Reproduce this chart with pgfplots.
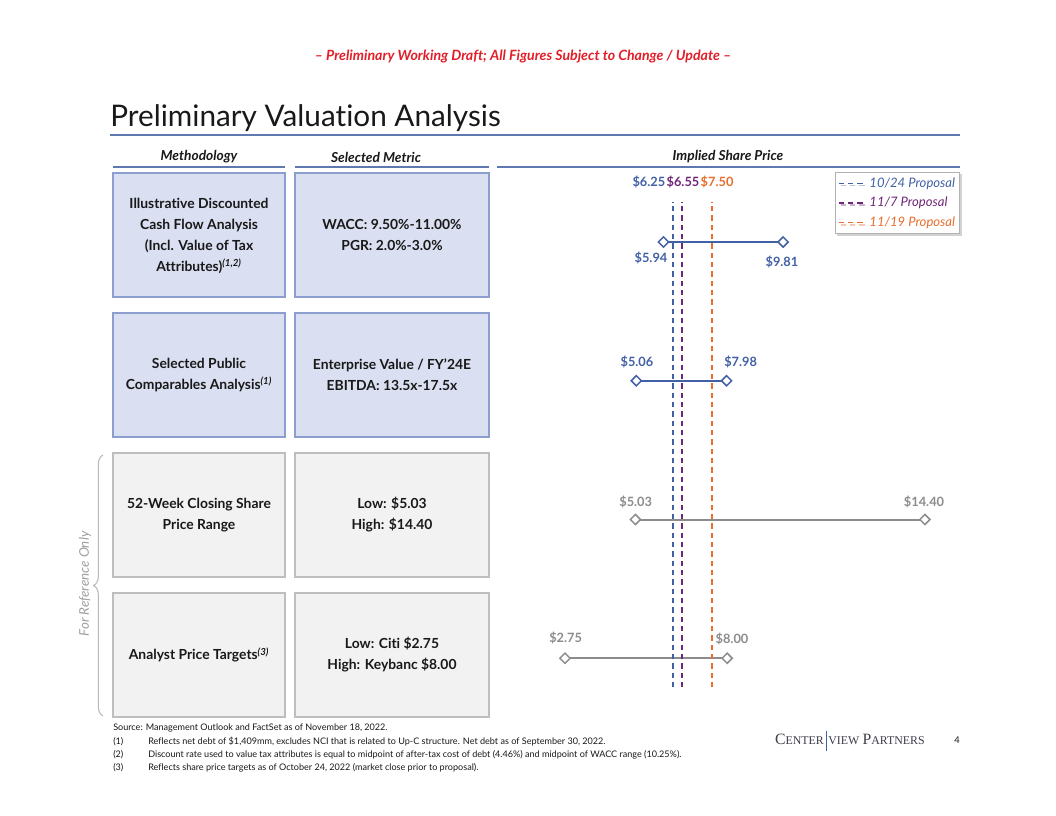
\documentclass[border=0pt]{standalone}
\usepackage{pgfplots}
\pgfplotsset{compat=1.18}
\usepackage{fontspec}
\setmainfont{Lato}[Ligatures={NoCommon}]
\newfontfamily\serifcap{Liberation Serif}
\usetikzlibrary{shadows,decorations.pathreplacing}
\definecolor{hdrred}{RGB}{226,30,40}
\definecolor{cvblue}{RGB}{66,96,165}
\definecolor{cvpurple}{RGB}{110,38,120}
\definecolor{cvorange}{RGB}{232,110,45}
\definecolor{cvgray}{RGB}{140,140,140}
\definecolor{rulblue}{RGB}{95,120,175}
\definecolor{boxblue}{RGB}{218,223,241}
\definecolor{boxblueb}{RGB}{140,158,205}
\definecolor{boxgray}{RGB}{242,242,242}
\definecolor{boxgrayb}{RGB}{190,190,190}
\definecolor{txt}{RGB}{25,25,25}
\definecolor{logo}{RGB}{60,60,75}
\newcommand\boxfont{\bfseries\fontsize{10.4}{15.75}\selectfont}
\tikzset{vlab/.style={font=\bfseries\fontsize{9.6}{11}\selectfont, inner sep=0}}
\begin{document}
\begin{tikzpicture}
\begin{scope}[x=0.75pt,y=-0.75pt,shift={(0pt,612pt)}]
\fill[white] (0,0) rectangle (1056,816);
% header
\node[font=\bfseries\itshape\fontsize{10.6}{12}\selectfont, text=hdrred] at (523,57) {-- Preliminary Working Draft; All Figures Subject to Change / Update --};
% title
\node[anchor=base west, inner sep=0, font=\fontsize{22.3}{26}\selectfont, text=txt] at (110,127) {Preliminary Valuation Analysis};
\draw[rulblue, line width=0.9pt] (110,135) -- (960,135);
% column headers
\node[font=\bfseries\itshape\fontsize{10.3}{12}\selectfont, text=txt] at (199,157) {Methodology};
\node[font=\bfseries\itshape\fontsize{10.3}{12}\selectfont, text=txt] at (376,157) {Selected Metric};
\node[font=\bfseries\itshape\fontsize{10.3}{12}\selectfont, text=txt] at (728,157) {Implied Share Price};
\draw[rulblue, line width=0.9pt] (113,167) -- (285,167);
\draw[rulblue, line width=0.9pt] (295,167) -- (489,167);
\draw[rulblue, line width=0.9pt] (497,167) -- (960,167);
% boxes
\foreach \yy in {173,313} {
  \draw[boxblueb, fill=boxblue, line width=0.9pt] (113,\yy) rectangle (285,{\yy+124});
  \draw[boxblueb, fill=boxblue, line width=0.9pt] (295,\yy) rectangle (489,{\yy+124});
}
\foreach \yy in {453,593} {
  \draw[boxgrayb, fill=boxgray, line width=0.9pt] (113,\yy) rectangle (285,{\yy+124});
  \draw[boxgrayb, fill=boxgray, line width=0.9pt] (295,\yy) rectangle (489,{\yy+124});
}
% box texts
\node[align=center, font=\boxfont, text=txt] at (199,236) {Illustrative Discounted\\Cash Flow Analysis\\(Incl. Value of Tax\\Attributes)\textsuperscript{\itshape(1,2)}};
\node[align=center, font=\boxfont, text=txt] at (392,235) {WACC: 9.50\%-11.00\%\\PGR: 2.0\%-3.0\%};
\node[align=center, font=\boxfont, text=txt] at (199,375) {Selected Public\\Comparables Analysis\textsuperscript{\itshape(1)}};
\node[align=center, font=\boxfont, text=txt] at (392,375) {Enterprise Value / FY'24E\\EBITDA: 13.5x-17.5x};
\node[align=center, font=\boxfont, text=txt] at (199,515) {52-Week Closing Share\\Price Range};
\node[align=center, font=\boxfont, text=txt] at (392,515) {Low: \$5.03\\High: \$14.40};
\node[align=center, font=\boxfont, text=txt] at (199,655) {Analyst Price Targets\textsuperscript{\itshape(3)}};
\node[align=center, font=\boxfont, text=txt] at (392,655) {Low: Citi \$2.75\\High: Keybanc \$8.00};
% brace and side text
\draw[gray!55, line width=0.8pt, decorate, decoration={brace, amplitude=7pt}] (103,716) -- (103,455);
\node[rotate=90, font=\itshape\fontsize{10}{12}\selectfont, text=gray!75] at (85,584) {For Reference Only};
% footnotes
\begin{scope}[every node/.style={anchor=west, inner sep=0, font=\fontsize{6.8}{8}\selectfont, text=txt}]
\node at (113,728) {Source: Management Outlook and FactSet as of November 18, 2022.};
\node at (113,742) {(1)}; \node at (148,742) {Reflects net debt of \$1,409mm, excludes NCI that is related to Up-C structure. Net debt as of September 30, 2022.};
\node at (113,755) {(2)}; \node at (148,755) {Discount rate used to value tax attributes is equal to midpoint of after-tax cost of debt (4.46\%) and midpoint of WACC range (10.25\%).};
\node at (113,768) {(3)}; \node at (148,768) {Reflects share price targets as of October 24, 2022 (market close prior to proposal).};
\end{scope}
% logo
\node[anchor=base east, inner sep=0, text=logo, font=\serifcap] at (824,745) {{\fontsize{11.8}{14}\selectfont C}{\fontsize{8.9}{11}\selectfont ENTER}};
\draw[cvblue, line width=0.7pt] (826,731) -- (826,751);
\node[anchor=base west, inner sep=0, text=logo, font=\serifcap] at (828,745) {{\fontsize{8.9}{11}\selectfont VIEW} {\fontsize{11.8}{14}\selectfont P}{\fontsize{8.9}{11}\selectfont ARTNERS}};
\node[font=\fontsize{7}{8}\selectfont, text=txt] at (957,740) {4};
\end{scope}

\begin{axis}[at={(360pt,14.25pt)}, anchor=south west, scale only axis,
  width=347.6pt, height=520.3pt, xmin=0, xmax=15, ymin=0, ymax=5,
  hide axis, clip=false,
  legend style={at={(0.766,0.901)}, anchor=north west, draw=gray!60, fill=white,
    line width=0.6pt, font=\itshape\fontsize{9.8}{11}\selectfont,
    drop shadow={shadow xshift=1.5pt, shadow yshift=-1.5pt, opacity=0.35},
    row sep=3pt, inner xsep=2pt, inner ysep=2.5pt,
    nodes={inner sep=1.5pt},
    /tikz/every odd column/.append style={column sep=3pt}},
  legend cell align=left,
  legend image code/.code={\draw[#1, line width=1pt, dash pattern=on 4pt off 3pt] (0pt,0pt) -- (18pt,0pt);}]
% ranges
\addplot[cvblue, line width=1.5pt, mark=square*, mark size=2.7pt,
  mark options={fill=white, rotate=45, line width=1.1pt}, forget plot]
  coordinates {(5.94,4) (9.81,4)};
\addplot[cvblue, line width=1.5pt, mark=square*, mark size=2.7pt,
  mark options={fill=white, rotate=45, line width=1.1pt}, forget plot]
  coordinates {(5.06,3) (7.98,3)};
\addplot[cvgray, line width=1.5pt, mark=square*, mark size=2.7pt,
  mark options={fill=white, rotate=45, line width=1.1pt}, forget plot]
  coordinates {(5.03,2) (14.40,2)};
\addplot[cvgray, line width=1.5pt, mark=square*, mark size=2.7pt,
  mark options={fill=white, rotate=45, line width=1.1pt}, forget plot]
  coordinates {(2.75,1) (8.00,1)};
% proposal lines
\addplot[cvblue, line width=1.4pt, dash pattern=on 4pt off 3pt] coordinates {(6.25,0.79) (6.25,4.29)};
\addlegendentry{\textcolor{cvblue}{10/24 Proposal}}
\addplot[cvpurple, line width=1.4pt, dash pattern=on 4pt off 3pt] coordinates {(6.55,0.79) (6.55,4.29)};
\addlegendentry{\textcolor{cvpurple}{11/7 Proposal}}
\addplot[cvorange, line width=1.4pt, dash pattern=on 4pt off 3pt] coordinates {(7.50,0.79) (7.50,4.29)};
\addlegendentry{\textcolor{cvorange}{11/19 Proposal}}
% labels
\node[vlab, text=cvpurple] (l655) at (axis cs:6.57,4.432) {\$6.55};
\node[vlab, text=cvblue, anchor=east] at ([xshift=-0.6pt]l655.west) {\$6.25};
\node[vlab, text=cvorange, anchor=west] at ([xshift=0.6pt]l655.east) {\$7.50};
\node[vlab, text=cvblue] at (axis cs:5.534,3.885) {\$5.94};
\node[vlab, text=cvblue] at (axis cs:9.773,3.856) {\$9.81};
\node[vlab, text=cvblue] at (axis cs:5.08,3.135) {\$5.06};
\node[vlab, text=cvblue] at (axis cs:8.437,3.135) {\$7.98};
\node[vlab, text=cvgray] at (axis cs:5.039,2.126) {\$5.03};
\node[vlab, text=cvgray] at (axis cs:14.37,2.126) {\$14.40};
\node[vlab, text=cvgray] at (axis cs:2.773,1.146) {\$2.75};
\node[vlab, text=cvgray] at (axis cs:8.155,1.139) {\$8.00};
\end{axis}
\end{tikzpicture}
\end{document}
